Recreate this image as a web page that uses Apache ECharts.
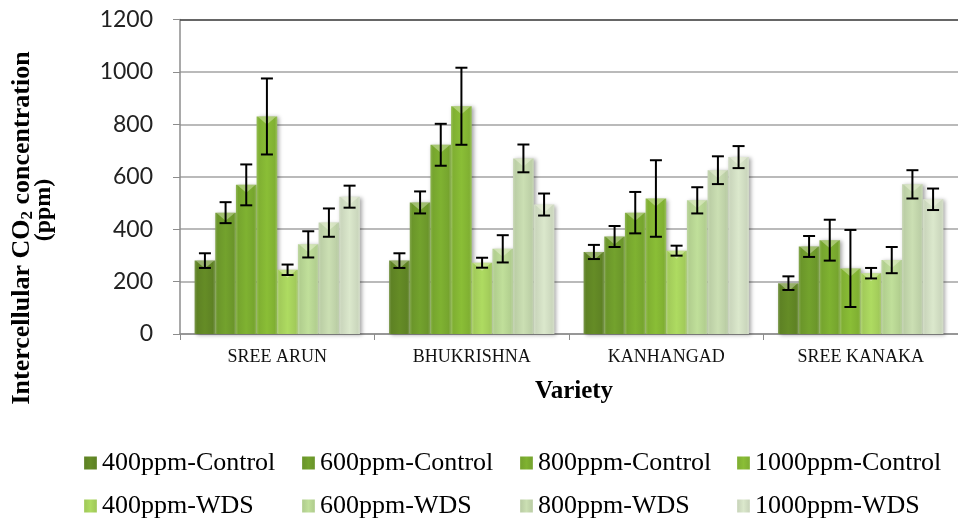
<!DOCTYPE html>
<html>
<head>
<meta charset="utf-8">
<style>
  html, body { margin: 0; padding: 0; background: #ffffff; }
  #chart { width: 958px; height: 523px; }
</style>
<script src="https://cdn.jsdelivr.net/npm/echarts@6/dist/echarts.min.js"></script>
</head>
<body>
<div id="chart"></div>
<script>
// Varieties on the category axis
const varieties = ['SREE ARUN', 'BHUKRISHNA', 'KANHANGAD', 'SREE KANAKA'];

// Treatment names (legend order)
const treatments = [
  '400ppm-Control', '600ppm-Control', '800ppm-Control', '1000ppm-Control',
  '400ppm-WDS', '600ppm-WDS', '800ppm-WDS', '1000ppm-WDS'
];

// Mean intercellular CO2 (ppm) per treatment, one value per variety
const c400 = [280, 280, 313, 194];
const c600 = [463, 502, 372, 334];
const c800 = [569, 722, 463, 358];
const c1000 = [830, 869, 517, 250];
const w400 = [245, 272, 318, 232];
const w600 = [342, 325, 510, 282];
const w800 = [425, 670, 625, 571];
const w1000 = [524, 494, 675, 514];

// Error (± ppm) per treatment, one value per variety
const e_c400 = [28, 28, 27, 26];
const e_c600 = [40, 42, 40, 40];
const e_c800 = [78, 80, 79, 78];
const e_c1000 = [145, 147, 146, 147];
const e_w400 = [20, 19, 19, 20];
const e_w600 = [50, 52, 50, 50];
const e_w800 = [54, 53, 53, 54];
const e_w1000 = [42, 42, 42, 41];

// Y axis ticks
const yTicks = [0, 200, 400, 600, 800, 1000, 1200];

const means = [c400, c600, c800, c1000, w400, w600, w800, w1000];
const errors = [e_c400, e_c600, e_c800, e_c1000, e_w400, e_w600, e_w800, e_w1000];
const baseColors = ['#5e8224', '#6b962a', '#76a52e', '#80b032', '#a2cb5a', '#b2cf8f', '#bccfa6', '#cbd7bd'];

const BAR_GROUP = 0.85; // share of each category band covered by the bars

function barFill(base) {
  return new echarts.graphic.LinearGradient(0, 0, 1, 0, [
    { offset: 0, color: echarts.color.lift(base, 0.18) },
    { offset: 0.12, color: base },
    { offset: 0.5, color: echarts.color.lift(base, -0.08) },
    { offset: 0.88, color: base },
    { offset: 1, color: echarts.color.lift(base, 0.22) }
  ]);
}

const serif = '"Liberation Serif", "Times New Roman", serif';

const series = [];
treatments.forEach((name, i) => {
  series.push({
    name: name,
    type: 'bar',
    data: means[i],
    barGap: '0%',
    barCategoryGap: '15%',
    itemStyle: {
      color: barFill(baseColors[i]),
      shadowColor: 'rgba(0,0,0,0.35)',
      shadowBlur: 4,
      shadowOffsetX: 2,
      shadowOffsetY: 1
    },
    emphasis: { disabled: true },
    z: 2
  });
});

// Darker top border line of the plot at the axis maximum
series[0].markLine = {
  silent: true,
  symbol: 'none',
  label: { show: false },
  lineStyle: { color: '#4a4a4a', width: 1.5, type: 'solid' },
  data: [{ yAxis: yTicks[yTicks.length - 1] }]
};

// Per-bar records: [category, mean, low, high, treatment index]
const barData = [];
means.forEach((arr, s) => {
  arr.forEach((v, c) => {
    barData.push([c, v, v - errors[s][c], v + errors[s][c], s]);
  });
});

function barX(api) {
  const cat = api.value(0);
  const s = api.value(4);
  const band = api.size([1, 0])[0];
  const bw = band * BAR_GROUP / 8;
  const center = api.coord([cat, 0])[0];
  const left = center - band * BAR_GROUP / 2 + s * bw;
  return { left: left, width: bw, mid: left + bw / 2 };
}

// Bevelled highlight at the top of every bar
series.push({
  type: 'custom',
  name: 'bevel',
  data: barData,
  z: 5,
  silent: true,
  encode: { x: 0, y: 1 },
  renderItem: function (params, api) {
    const b = barX(api);
    const yTop = api.coord([api.value(0), api.value(1)])[1];
    const d = 8;
    return {
      type: 'polygon',
      shape: { points: [[b.left + 1, yTop], [b.left + b.width - 1, yTop], [b.mid, yTop + d]] },
      style: { fill: 'rgba(255,255,240,0.35)' }
    };
  }
});

// Error bars
series.push({
  type: 'custom',
  name: 'errors',
  data: barData,
  z: 10,
  silent: true,
  encode: { x: 0, y: [2, 3] },
  renderItem: function (params, api) {
    const b = barX(api);
    const x = b.mid;
    const yLo = api.coord([api.value(0), api.value(2)])[1];
    const yHi = api.coord([api.value(0), api.value(3)])[1];
    const half = 6;
    const st = { stroke: '#000', lineWidth: 2 };
    return {
      type: 'group',
      children: [
        { type: 'line', shape: { x1: x, y1: yHi, x2: x, y2: yLo }, style: st },
        { type: 'line', shape: { x1: x - half, y1: yHi, x2: x + half, y2: yHi }, style: st },
        { type: 'line', shape: { x1: x - half, y1: yLo, x2: x + half, y2: yLo }, style: st }
      ]
    };
  }
});

// One legend block per treatment, laid out in two rows of four
const legendCols = [79, 297, 515, 732];
const legendRows = [445, 488];
const legends = treatments.map((name, i) => ({
  data: [name],
  left: legendCols[i % 4],
  top: legendRows[Math.floor(i / 4)],
  icon: 'rect',
  itemWidth: 13,
  itemHeight: 13,
  itemGap: 0,
  selectedMode: false,
  textStyle: { fontFamily: serif, fontSize: 26, color: '#000' }
}));

const chart = echarts.init(document.getElementById('chart'), null, { renderer: 'canvas' });
chart.setOption({
  backgroundColor: '#ffffff',
  animation: false,
  legend: legends,
  grid: { left: 180, right: -10, top: 19.5, bottom: 189 },
  xAxis: {
    type: 'category',
    data: varieties,
    axisLine: { lineStyle: { color: '#8c8c8c', width: 1.5 } },
    axisTick: { show: true, length: 6, lineStyle: { color: '#8c8c8c' } },
    axisLabel: { fontFamily: serif, fontSize: 18, color: '#111', margin: 14 }
  },
  yAxis: {
    type: 'value',
    min: yTicks[0],
    max: yTicks[yTicks.length - 1],
    interval: yTicks[1] - yTicks[0],
    axisLine: { show: true, lineStyle: { color: '#8c8c8c', width: 1.5 } },
    axisTick: { show: true, length: 7, lineStyle: { color: '#8c8c8c' } },
    axisLabel: {
      fontFamily: 'Lato, "Open Sans", sans-serif', fontSize: 23, color: '#222', margin: 27,
      formatter: v => String(v)
    },
    splitLine: { show: true, lineStyle: { color: '#a3a3a3', width: 1.5 } }
  },
  graphic: [
    {
      type: 'text',
      x: 22, y: 228,
      rotation: Math.PI / 2,
      style: {
        text: '{b|Intercellular CO}{s|2}{b| concentration}',
        align: 'center',
        verticalAlign: 'middle',
        rich: {
          b: { fontFamily: serif, fontWeight: 'bold', fontSize: 26, color: '#000', lineHeight: 28 },
          s: { fontFamily: serif, fontWeight: 'bold', fontSize: 17, color: '#000', lineHeight: 28, verticalAlign: 'bottom', padding: [10, 0, 0, 0] }
        }
      }
    },
    {
      type: 'text',
      x: 44, y: 210,
      rotation: Math.PI / 2,
      style: {
        text: '(ppm)',
        align: 'center',
        verticalAlign: 'middle',
        fontFamily: serif, fontWeight: 'bold', fontSize: 24, fill: '#000'
      }
    },
    {
      type: 'text',
      x: 574, y: 392,
      style: {
        text: 'Variety',
        align: 'center',
        verticalAlign: 'middle',
        fontFamily: serif, fontWeight: 'bold', fontSize: 25, fill: '#000'
      }
    }
  ],
  series: series
});
</script>
</body>
</html>
